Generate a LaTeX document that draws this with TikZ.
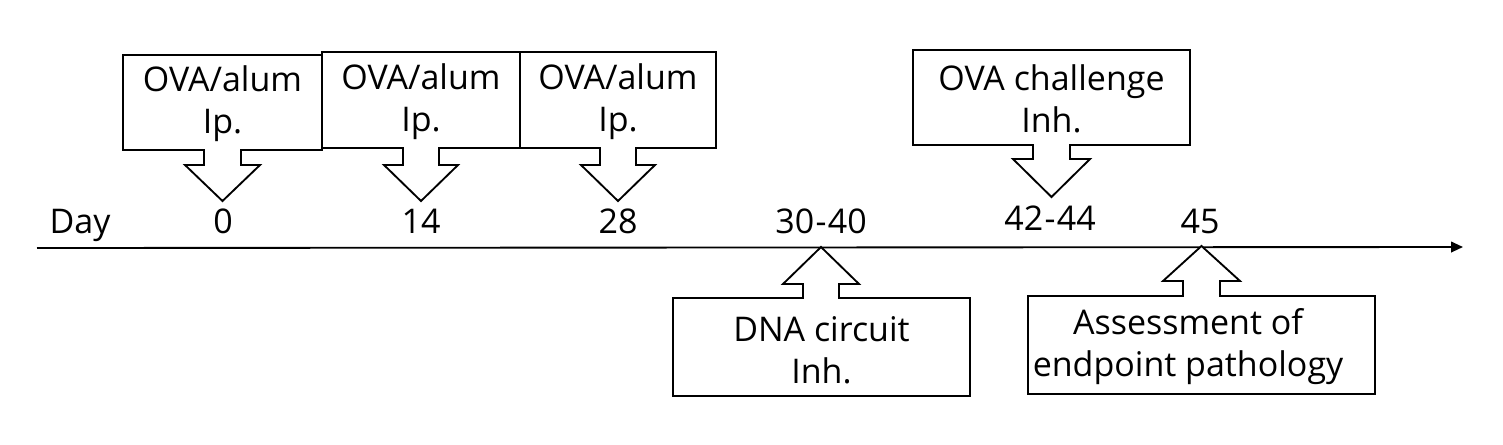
\documentclass[tikz,border=0pt]{standalone}
\usepackage{fontspec}
\setmainfont{Open Sans}
\usetikzlibrary{arrows.meta}
\begin{document}
\begin{tikzpicture}[x=0.75pt,y=-0.75pt,
  callout/.style={draw=black,line width=1.4pt,fill=white,line join=miter},
  boxtext/.style={align=center,inner sep=0pt,font=\fontsize{25.5}{31.5}\selectfont},
  lbl/.style={inner sep=0pt,font=\fontsize{25.5}{28}\selectfont},
  axis/.style={line width=1.4pt,-{Triangle[length=9pt,width=8pt]}}]
\useasboundingbox (0,0) rectangle (1503,444);
% timeline
\coordinate (ax0) at (37,248);
\coordinate (ax1) at (1463,247);
\draw[axis] (ax0) -- (ax1);
% down callouts
\draw[callout] (123,55) -- (322,55) -- (322,150) -- (241,150) -- (241,165) -- (260,165) -- (222.5,201) -- (185,165) -- (204,165) -- (204,150) -- (123,150) -- cycle;
\draw[callout] (322,52) -- (520,52) -- (520,148) -- (439,148) -- (439,165) -- (458,165) -- (421,201) -- (384,165) -- (403,165) -- (403,148) -- (322,148) -- cycle;
\draw[callout] (520,52) -- (716,52) -- (716,148) -- (636,148) -- (636,165) -- (655,165) -- (618,201) -- (581,165) -- (600,165) -- (600,148) -- (520,148) -- cycle;
\draw[callout] (913,50) -- (1190,50) -- (1190,145) -- (1070,145) -- (1070,159) -- (1090,159) -- (1051.5,197) -- (1013,159) -- (1033,159) -- (1033,145) -- (913,145) -- cycle;
% up callouts
\draw[callout] (673,298) -- (803,298) -- (803,284) -- (783,284) -- (821,247) -- (859,284) -- (839,284) -- (839,298) -- (970,298) -- (970,396) -- (673,396) -- cycle;
\draw[callout] (1028,296) -- (1183,296) -- (1183,281) -- (1163,281) -- (1201.5,246) -- (1240,281) -- (1220,281) -- (1220,296) -- (1375,296) -- (1375,394) -- (1028,394) -- cycle;
% box texts
\node[boxtext] (t1) at (222.5,104) {OVA/alum\\Ip.};
\node[boxtext] (t2) at (421,102) {OVA/alum\\Ip.};
\node[boxtext] (t3) at (618,102) {OVA/alum\\Ip.};
\node[boxtext] (t4) at (1051.5,99) {OVA challenge\\Inh.};
\node[boxtext] (t5) at (821.5,350) {DNA circuit\\Inh.};
\node[boxtext] (t6) at (1188,347) {Assessment of\\endpoint pathology};
% day labels
\node[lbl,anchor=base] (day) at (80,233) {Day};
\node[lbl,anchor=base] (d0) at (223,233) {0};
\node[lbl,anchor=base] (d14) at (421,233) {14};
\node[lbl,anchor=base] (d28) at (618,233) {28};
\node[lbl,anchor=base] (d30) at (821,233) {30\kern1pt-\kern1pt40};
\node[lbl,anchor=base] (d42) at (1050,230) {42\kern1pt-\kern1pt44};
\node[lbl,anchor=base] (d45) at (1200,233) {45};
\end{tikzpicture}
\end{document}
